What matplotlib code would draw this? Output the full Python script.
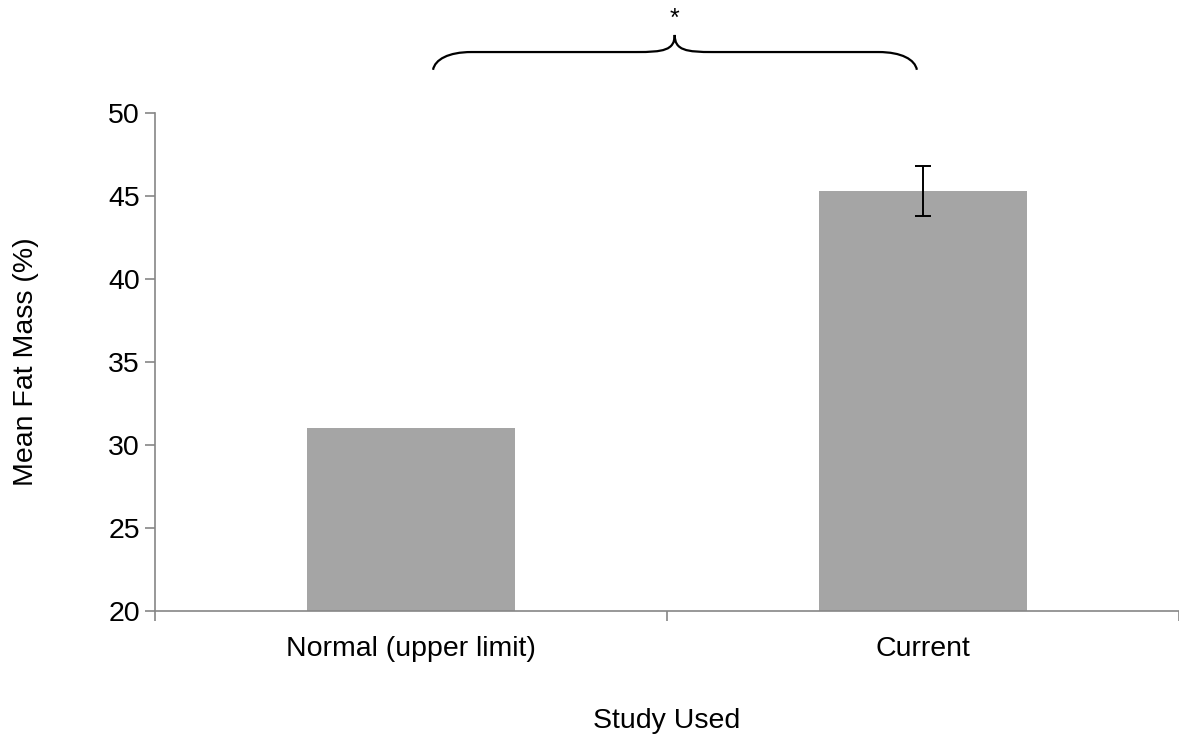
import matplotlib.pyplot as plt
from matplotlib.path import Path
from matplotlib.patches import PathPatch

categories = ['Normal (upper limit)', 'Current']
fat_mass = [31.0, 45.3]
fat_err = [0, 1.5]

plt.rcParams['font.family'] = ['Liberation Sans', 'DejaVu Sans']

fig = plt.figure(figsize=(11.79, 7.35), dpi=100)
ax = fig.add_axes([0.1315, 0.1687, 0.8685, 0.6776])

x = range(len(categories))
ax.bar(x, fat_mass, width=0.405, color='#a5a5a5', zorder=2)
ax.errorbar([1], [fat_mass[1]], yerr=[fat_err[1]], fmt='none', ecolor='black',
            elinewidth=1.4, capsize=6, capthick=1.4, zorder=3)

ax.set_xlim(-0.5, 1.5)
ax.set_ylim(20, 50)
ax.set_yticks(range(20, 51, 5))
ax.set_xticks(x)
ax.set_xticklabels(categories)
ax.set_xticks([-0.5, 0.5, 1.5], minor=True)
ax.tick_params(axis='x', which='major', length=0, pad=18, labelsize=20.5)
ax.tick_params(axis='x', which='minor', length=7, color='#868686', width=1.2)
ax.tick_params(axis='y', length=7, color='#868686', width=1.2, labelsize=20.5, pad=4)

for side in ['top', 'right']:
    ax.spines[side].set_visible(False)
for side in ['left', 'bottom']:
    ax.spines[side].set_color('#868686')
    ax.spines[side].set_linewidth(1.2)

ax.set_ylabel('Mean Fat Mass (%)', fontsize=20.5, labelpad=50)
ax.set_xlabel('Study Used', fontsize=20.5, labelpad=33)

# curly brace over both bars
x0, x1, xm = 0.043, 0.988, 0.515
y0, y1, ya = 52.6, 53.67, 54.7
d = 0.075
verts = [
    (x0, y0), (x0 + d * 0.05, y1 - 0.45), (x0 + d * 0.4, y1), (x0 + d, y1),
    (xm - d, y1),
    (xm - d * 0.3, y1), (xm, y1 + 0.1), (xm, ya),
    (xm, y1 + 0.1), (xm + d * 0.3, y1), (xm + d, y1),
    (x1 - d, y1),
    (x1 - d * 0.4, y1), (x1 - d * 0.05, y1 - 0.45), (x1, y0),
]
codes = [Path.MOVETO, Path.CURVE4, Path.CURVE4, Path.CURVE4,
         Path.LINETO,
         Path.CURVE4, Path.CURVE4, Path.CURVE4,
         Path.CURVE4, Path.CURVE4, Path.CURVE4,
         Path.LINETO,
         Path.CURVE4, Path.CURVE4, Path.CURVE4]
brace = PathPatch(Path(verts, codes), facecolor='none', edgecolor='black',
                  lw=1.6, clip_on=False)
ax.add_patch(brace)
ax.text(xm, 54.95, '*', ha='center', va='bottom', fontsize=18, clip_on=False)

fig.savefig('out.png', dpi=100)
